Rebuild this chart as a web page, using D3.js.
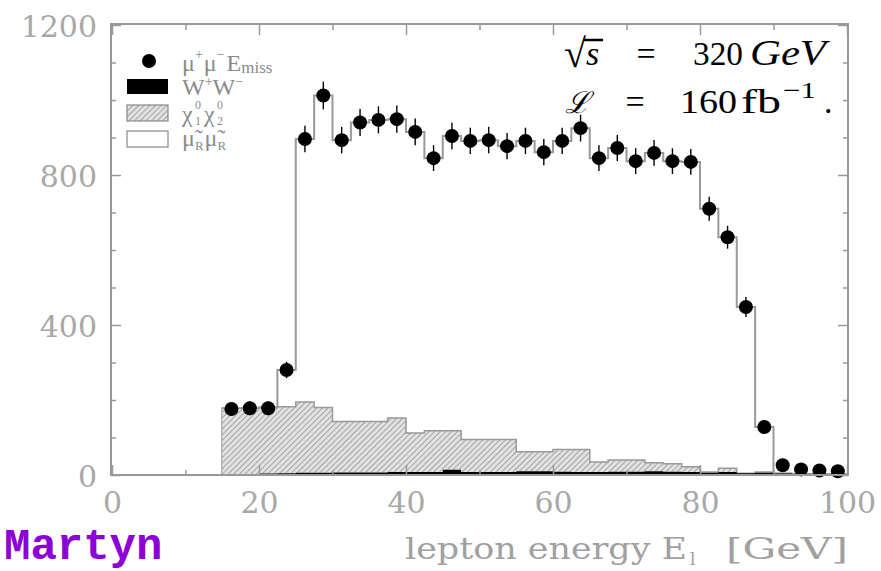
<!DOCTYPE html>
<html>
<head>
<meta charset="utf-8">
<script src="https://cdn.jsdelivr.net/npm/d3@7"></script>
<style>
  body { margin: 0; background: #fff; }
  svg { display: block; }
</style>
</head>
<body>
<svg width="881" height="571"></svg>
<script>
// bin edges of the histogram [GeV]
const binEdges = [15, 17.5, 20, 22.5, 25, 27.5, 30, 32.5, 35, 37.5, 40, 42.5, 45, 47.5, 50,
  52.5, 55, 57.5, 60, 62.5, 65, 67.5, 70, 72.5, 75, 77.5, 80, 82.5, 85, 87.5, 90, 92.5, 95, 97.5, 100];

// mu+ mu- E_miss data
const dataCounts = [176, 178, 178, 280, 896, 1012, 893, 940, 947, 949, 915, 845, 904, 891, 893, 877, 891,
  861, 891, 925, 845, 872, 837, 859, 837, 835, 710, 634, 448, 128, 26, 15, 12, 10];

// backgrounds / signal, stacked
const wwBg = [3, 3, 4, 5, 6, 6, 7, 7, 7, 8, 8, 8, 14, 8, 8, 8, 10, 10, 9, 8, 8, 9, 9, 10, 9, 8, 6, 8, 5, 6, 4, 3, 3, 2];
const chiBg = [175, 175, 176, 177, 189, 174, 136, 136, 136, 144, 104, 110, 104, 87, 87, 87, 52, 52, 59, 60,
  27, 31, 31, 23, 21, 14, 2, 10, 0, 2, 0, 0, 0, 0];
const smuon = [0, 0, 0, 98, 701, 832, 750, 797, 804, 797, 803, 727, 786, 796, 798, 782, 829, 799, 823, 857,
  810, 832, 797, 826, 807, 813, 702, 616, 443, 120, 0, 0, 0, 0];

const xTicks = [0, 20, 40, 60, 80, 100];
const xMinor = [10, 30, 50, 70, 90];
const yTicks = [0, 400, 800, 1200];
const yMinor = [100, 200, 300, 500, 600, 700, 900, 1000, 1100];

const svg = d3.select('svg');
const x = d3.scaleLinear().domain([0, 100]).range([112, 847]);
const y = d3.scaleLinear().domain([0, 1200]).range([475, 25]);

// hatch pattern
const defs = svg.append('defs');
const pat = defs.append('pattern')
  .attr('id', 'hatch')
  .attr('patternUnits', 'userSpaceOnUse')
  .attr('width', 4).attr('height', 4)
  .attr('patternTransform', 'rotate(45)');
pat.append('rect').attr('width', 4).attr('height', 4).attr('fill', '#e2e2e2');
pat.append('line').attr('x1', 0).attr('y1', 0).attr('x2', 0).attr('y2', 4)
  .attr('stroke', '#808080').attr('stroke-width', 1.3);

// stack the three components
const rows = binEdges.slice(0, -1).map((lo, i) => ({
  lo: lo, ww: wwBg[i], chi: chiBg[i], smuon: smuon[i]
}));
const stack = d3.stack().keys(['ww', 'chi', 'smuon'])(rows);

// step area: repeat last bin at the upper edge
function stepPts(layer) {
  const pts = layer.map((d, i) => ({ e: binEdges[i], y0: d[0], y1: d[1] }));
  const last = layer[layer.length - 1];
  pts.push({ e: binEdges[binEdges.length - 1], y0: last[0], y1: last[1] });
  return pts;
}
const area = d3.area().curve(d3.curveStepAfter)
  .x(d => x(d.e)).y0(d => y(d.y0)).y1(d => y(d.y1));
const topLine = d3.line().curve(d3.curveStepAfter)
  .x(d => x(d.e)).y(d => y(d.y1));

const plot = svg.append('g');

// smuon (white) with outline of total
const sm = stepPts(stack[2]);
plot.append('path').attr('d', area(sm)).attr('fill', '#fff');
plot.append('path')
  .attr('d', topLine([{ e: 0, y1: 0 }, { e: 15, y1: 0 }].concat(sm)) + `L${x(100)},${y(0)}`)
  .attr('fill', 'none').attr('stroke', '#999').attr('stroke-width', 2);

// chi chi hatched
const ch = stepPts(stack[1]);
plot.append('path').attr('d', area(ch)).attr('fill', 'url(#hatch)');
plot.append('path').attr('d', topLine(ch) + `L${x(100)},${y(0)}`)
  .attr('fill', 'none').attr('stroke', '#999').attr('stroke-width', 1.5);

// WW black
plot.append('path').attr('d', area(stepPts(stack[0]))).attr('fill', '#000');

// data points with error bars
const pts = plot.append('g').selectAll('g').data(dataCounts).join('g')
  .attr('transform', (d, i) => `translate(${x((binEdges[i] + binEdges[i + 1]) / 2)},${y(d)})`);
pts.append('line')
  .attr('y1', d => y(d + Math.sqrt(d)) - y(d) - 2)
  .attr('y2', d => y(d - Math.sqrt(d)) - y(d) + 2)
  .attr('stroke', '#000').attr('stroke-width', 1.4);
pts.append('circle').attr('r', 7).attr('fill', '#000');

// frame
svg.append('rect')
  .attr('x', 111).attr('y', 24).attr('width', 737).attr('height', 451)
  .attr('fill', 'none').attr('stroke', '#999').attr('stroke-width', 2);

// axes ticks (inward)
const tickFont = g => g.selectAll('text')
  .attr('font-family', 'DejaVu Serif').attr('font-size', 30)
  .attr('fill', '#a8a8a8');
const clean = g => { g.select('.domain').remove(); g.selectAll('line').attr('stroke', '#999').attr('stroke-width', 1.5); };

svg.append('g').attr('transform', `translate(0,${y(0)})`)
  .call(d3.axisBottom(x).tickValues(xTicks).tickSizeInner(-10).tickSizeOuter(0).tickPadding(17).tickFormat(d3.format('d')))
  .call(clean).call(tickFont);
svg.append('g').attr('transform', `translate(0,${y(0)})`)
  .call(d3.axisBottom(x).tickValues(xMinor).tickSizeInner(-5).tickSizeOuter(0).tickFormat(''))
  .call(clean);
svg.append('g').attr('transform', `translate(0,${y(1200)})`)
  .call(d3.axisTop(x).tickValues(xTicks).tickSizeInner(-10).tickSizeOuter(0).tickFormat(''))
  .call(clean);
svg.append('g').attr('transform', `translate(0,${y(1200)})`)
  .call(d3.axisTop(x).tickValues(xMinor).tickSizeInner(-5).tickSizeOuter(0).tickFormat(''))
  .call(clean);
svg.append('g').attr('transform', `translate(${x(0) - 1},0)`)
  .call(d3.axisLeft(y).tickValues(yTicks).tickSizeInner(-10).tickSizeOuter(0).tickPadding(14).tickFormat(d3.format('d')))
  .call(clean).call(tickFont)
  .call(g => g.selectAll('text').attr('dy', '0.38em'));
svg.append('g').attr('transform', `translate(${x(0) - 1},0)`)
  .call(d3.axisLeft(y).tickValues(yMinor).tickSizeInner(-5).tickSizeOuter(0).tickFormat(''))
  .call(clean);
svg.append('g').attr('transform', `translate(${x(100) + 1},0)`)
  .call(d3.axisRight(y).tickValues(yTicks).tickSizeInner(-10).tickSizeOuter(0).tickFormat(''))
  .call(clean);
svg.append('g').attr('transform', `translate(${x(100) + 1},0)`)
  .call(d3.axisRight(y).tickValues(yMinor).tickSizeInner(-5).tickSizeOuter(0).tickFormat(''))
  .call(clean);

// x axis title
const xt = svg.append('g')
  .attr('font-family', 'DejaVu Serif').attr('font-size', 29)
  .attr('fill', '#a0a0a0');
xt.append('text').attr('x', 405).attr('y', 559)
  .attr('textLength', 282).attr('lengthAdjust', 'spacingAndGlyphs')
  .text('lepton energy E');
xt.append('text').attr('x', 690).attr('y', 565).attr('font-size', 17).text('l');
xt.append('text').attr('x', 726).attr('y', 559)
  .attr('textLength', 122).attr('lengthAdjust', 'spacingAndGlyphs')
  .text('[GeV]');

// author tag
svg.append('text')
  .attr('x', 4).attr('y', 559)
  .attr('font-family', 'Liberation Mono').attr('font-weight', 'bold')
  .attr('font-size', 44).attr('fill', '#8d00d8')
  .text('Martyn');

// beam energy & luminosity
const info = svg.append('g').attr('font-family', 'Liberation Serif').attr('font-size', 34).attr('fill', '#000');
info.append('text').attr('x', 564).attr('y', 67).attr('font-size', 40).text('\u221A');
info.append('text').attr('x', 586).attr('y', 65).attr('font-style', 'italic').text('s');
info.append('line').attr('x1', 584).attr('x2', 603).attr('y1', 40).attr('y2', 40)
  .attr('stroke', '#000').attr('stroke-width', 2.5);
info.append('text').attr('x', 646).attr('y', 65).attr('text-anchor', 'middle').text('=');
info.append('text').attr('x', 693).attr('y', 65)
  .attr('textLength', 50).attr('lengthAdjust', 'spacingAndGlyphs').text('320');
info.append('text').attr('x', 750).attr('y', 65).attr('font-style', 'italic').attr('font-size', 36)
  .attr('textLength', 76).attr('lengthAdjust', 'spacingAndGlyphs').text('GeV');
info.append('text').attr('x', 565).attr('y', 113).attr('font-size', 30).attr('font-style', 'italic').text('\u2112');
info.append('text').attr('x', 635).attr('y', 113).attr('text-anchor', 'middle').text('=');
info.append('text').attr('x', 680).attr('y', 113)
  .attr('textLength', 57).attr('lengthAdjust', 'spacingAndGlyphs').text('160');
info.append('text').attr('x', 741).attr('y', 113)
  .attr('textLength', 40).attr('lengthAdjust', 'spacingAndGlyphs').text('fb');
info.append('text').attr('x', 783).attr('y', 98).attr('font-size', 23)
  .attr('textLength', 33).attr('lengthAdjust', 'spacingAndGlyphs').text('\u22121');
info.append('text').attr('x', 824).attr('y', 113).text('.');

// legend
const leg = svg.append('g').attr('font-family', 'Liberation Serif').attr('font-size', 24).attr('fill', '#8a8a8a');
leg.append('circle').attr('cx', 149).attr('cy', 61).attr('r', 7).attr('fill', '#000');
leg.append('rect').attr('x', 127).attr('y', 79).attr('width', 41).attr('height', 15).attr('fill', '#000');
leg.append('rect').attr('x', 127).attr('y', 105).attr('width', 41).attr('height', 16)
  .attr('fill', 'url(#hatch)').attr('stroke', '#888').attr('stroke-width', 1.2);
leg.append('rect').attr('x', 127).attr('y', 131).attr('width', 41).attr('height', 16)
  .attr('fill', '#fff').attr('stroke', '#888').attr('stroke-width', 1.2);

const t1 = leg.append('text').attr('x', 182).attr('y', 71);
t1.append('tspan').text('\u03BC');
t1.append('tspan').attr('font-size', 14).attr('dy', -12).text('+');
t1.append('tspan').attr('dy', 12).attr('dx', 1).text('\u03BC');
t1.append('tspan').attr('font-size', 14).attr('dy', -12).text('\u2212');
t1.append('tspan').attr('dy', 12).attr('dx', 2).text('E');
t1.append('tspan').attr('font-size', 17).attr('dy', 2).text('miss');

const t2 = leg.append('text').attr('x', 182).attr('y', 95);
t2.append('tspan').text('W');
t2.append('tspan').attr('font-size', 14).attr('dy', -9).text('+');
t2.append('tspan').attr('dy', 9).text('W');
t2.append('tspan').attr('font-size', 14).attr('dy', -9).text('\u2212');

// chi0_1 chi0_2 with stacked indices
const t3 = leg.append('g').attr('font-size', 24);
t3.append('text').attr('x', 182).attr('y', 122).text('\u03C7');
t3.append('text').attr('x', 195).attr('y', 125).attr('font-size', 12).text('1');
t3.append('text').attr('x', 195).attr('y', 109).attr('font-size', 12).text('0');
t3.append('text').attr('x', 204).attr('y', 122).text('\u03C7');
t3.append('text').attr('x', 217).attr('y', 125).attr('font-size', 12).text('2');
t3.append('text').attr('x', 217).attr('y', 109).attr('font-size', 12).text('0');

const t4 = leg.append('text').attr('x', 182).attr('y', 146);
t4.append('tspan').text('\u03BC\u0303');
t4.append('tspan').attr('font-size', 13).attr('dy', 4).text('R');
t4.append('tspan').attr('dy', -4).attr('dx', 1).text('\u03BC\u0303');
t4.append('tspan').attr('font-size', 13).attr('dy', 4).text('R');
</script>
</body>
</html>
